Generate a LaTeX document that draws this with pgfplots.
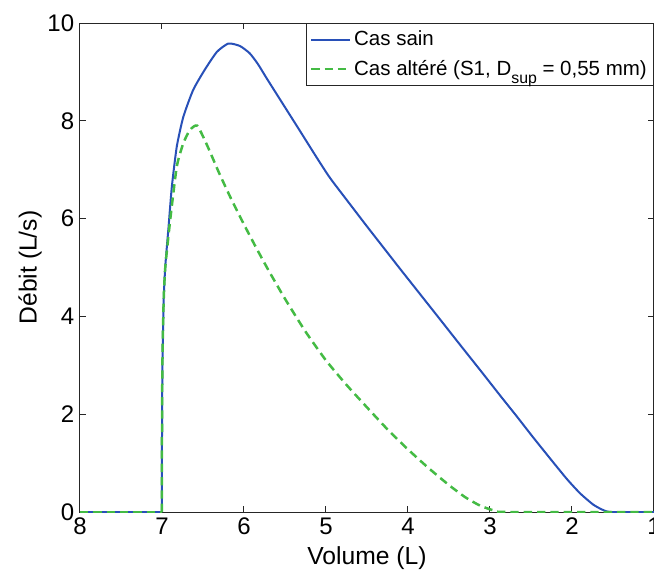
\documentclass[border=0pt]{standalone}
\usepackage{pgfplots}
\pgfplotsset{compat=1.18}
\usepackage{fontspec}
\setmainfont{Liberation Sans}
\definecolor{cblue}{RGB}{40,80,184}
\definecolor{cgreen}{RGB}{68,187,68}
\begin{document}
\begin{tikzpicture}
\begin{axis}[at={(0pt,0pt)}, anchor=south west,
  scale only axis, width=344.4pt, height=293.4pt,
  x dir=reverse, xmin=1, xmax=8, ymin=0, ymax=10,
  xtick={1,2,...,8}, ytick={0,2,...,10},
  tick align=inside, major tick length=3.4pt,
  xtick pos=both, ytick pos=both,
  axis line style={line width=0.6pt, black!85},
  every tick/.style={black!85, line width=0.6pt},
  /pgf/number format/assume math mode=true,
  tick label style={font=\fontsize{14.4}{16}\selectfont},
  label style={font=\fontsize{14.8}{16}\selectfont},
  ylabel style={yshift=-3.5pt},
  xlabel={Volume (L)}, ylabel={Débit (L/s)},
  legend style={at={(1,1)}, anchor=north east, draw=black!85, line width=0.6pt,
    font=\fontsize{12.3}{14}\selectfont, inner xsep=2pt, inner ysep=2.5pt, row sep=3.2pt,
    cells={anchor=west}},
  legend cell align=left,
  legend image code/.code={\draw[#1] (0pt,0pt) -- (23pt,0pt);},
]
\addplot[cblue, line width=1.2pt, smooth, tension=0.35] coordinates {
(7.0,0) (7.0,1.5) (6.995,3.0) (6.98,4.3) (6.96,5.02) (6.92,5.83) (6.88,6.65)
(6.82,7.47) (6.74,8.08) (6.62,8.63) (6.48,9.04) (6.33,9.41) (6.19,9.58)
(6.05,9.53) (5.93,9.38) (5.83,9.16) (5.72,8.86) (5.52,8.33) (5.32,7.80) (5.11,7.24)
(4.95,6.83) (4.71,6.30) (4.50,5.84) (4.30,5.41) (4.10,4.98) (3.85,4.45)
(3.60,3.92) (3.37,3.43) (3.10,2.86) (2.88,2.39) (2.68,1.97) (2.48,1.54) (2.26,1.08)
(2.06,0.67) (1.90,0.38) (1.74,0.15) (1.62,0.04) (1.52,0) (1,0)
};
\addlegendentry{Cas sain}
\addplot[cblue, line width=1.2pt, forget plot] coordinates {(8,0) (7,0)};
\addplot[cgreen, line width=1.5pt, dash pattern=on 5pt off 3pt, smooth, tension=0.35] coordinates {
(7,0) (7.0,1.5) (6.995,3.0) (6.98,4.3) (6.96,5.0) (6.90,5.97) (6.82,7.06)
(6.74,7.54) (6.66,7.81) (6.57,7.9) (6.45,7.50) (6.30,6.92) (6.15,6.38)
(6.00,5.88) (5.85,5.40) (5.70,4.94) (5.50,4.36) (5.25,3.69) (5.00,3.10)
(4.75,2.60) (4.50,2.14) (4.25,1.69) (4.00,1.28) (3.75,0.90) (3.50,0.55)
(3.30,0.30) (3.12,0.13) (2.95,0.03) (2.80,0) (1,0)
};
\addlegendentry{Cas altéré (S1, D\raisebox{-0.7ex}{\fontsize{9.5}{10}\selectfont sup} = 0,55 mm)}
\addplot[cgreen, line width=1.5pt, dash pattern=on 5pt off 3pt, forget plot] coordinates {(8,0) (7,0)};
\end{axis}
\pgfresetboundingbox
\useasboundingbox (-48pt,-36pt) rectangle (344.4pt,307.2pt);
\end{tikzpicture}
\end{document}
